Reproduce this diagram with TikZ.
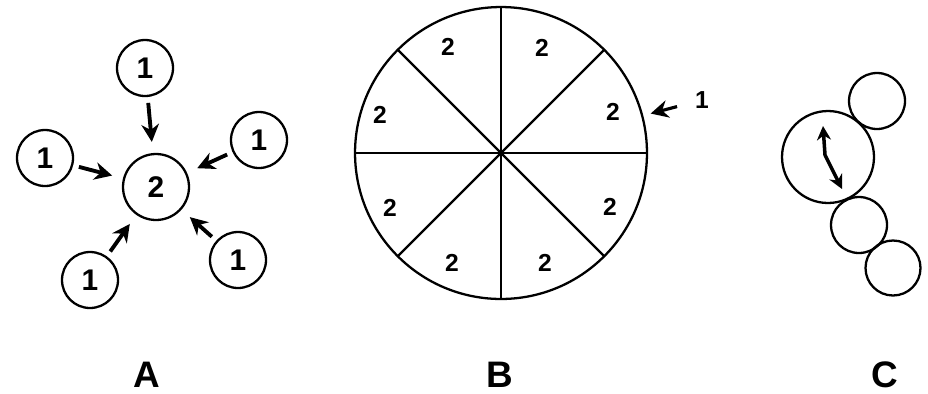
\documentclass[tikz,border=0pt]{standalone}
\usepackage{fontspec}
\setsansfont{Liberation Sans}
\usetikzlibrary{arrows.meta}

\begin{document}
\begin{tikzpicture}[x=0.02cm,y=-0.02cm,>={Stealth[length=10pt,width=10pt]},
  ring/.style={draw,circle,line width=1.3pt,inner sep=0pt,outer sep=0pt,font=\sffamily\bfseries\fontsize{17}{17}\selectfont},
  num/.style={font=\sffamily\bfseries\fontsize{14}{14}\selectfont},
  push/.style={->,line width=2.2pt,shorten <=4pt,shorten >=7pt},
  tag/.style={inner sep=0pt,font=\sffamily\bfseries\fontsize{21}{21}\selectfont}]
\useasboundingbox (0,0) rectangle (928,393);
% A
\node[ring,minimum size=1.32cm] (a2) at (156,187) {2};
\node[ring,minimum size=1.12cm] (an) at (145,68) {1};
\node[ring,minimum size=1.12cm] (aw) at (45,158) {1};
\node[ring,minimum size=1.12cm] (ae) at (259,140) {1};
\node[ring,minimum size=1.12cm] (asw) at (90,280) {1};
\node[ring,minimum size=1.12cm] (ase) at (238,260) {1};
\draw[push] (an)--(a2); \draw[push] (aw)--(a2); \draw[push] (ae)--(a2);
\draw[push] (asw)--(a2); \draw[push] (ase)--(a2);
% B
\node[ring,minimum size=5.84cm] (wheel) at (501,153) {};
\draw[line width=1.3pt] (wheel.0)--(wheel.180) (wheel.90)--(wheel.270);
\draw[line width=1.3pt] (wheel.45)--(wheel.225) (wheel.135)--(wheel.315);
\node[num] (b1) at (448,47) {2}; \node[num] (b2) at (542,48) {2};
\node[num] (b3) at (380,115) {2}; \node[num] (b4) at (613,112) {2};
\node[num] (b5) at (390,208) {2}; \node[num] (b6) at (610,207) {2};
\node[num] (b7) at (452,263) {2}; \node[num] (b8) at (545,263) {2};
\node[num] (bone) at (702,100) {1};
\draw[push,line width=1.8pt,shorten <=7pt,shorten >=5pt] (bone)--(wheel);
% C
\node[ring,minimum size=1.84cm] (cbig) at (828,157) {};
\node[ring,minimum size=1.12cm] (ctop) at (877,101) {};
\node[ring,minimum size=1.12cm] (cmid) at (859,225) {};
\node[ring,minimum size=1.1cm] (clow) at (893,268) {};
\coordinate (cp) at (823,126); \coordinate (ck) at (825,155); \coordinate (cq) at (842,189);
\draw[<->,line width=2pt,>={Stealth[length=8pt,width=8pt]}] (cp)--(ck)--(cq);
% labels
\node[tag] (la) at (147,375) {A};
\node[tag] (lb) at (500,375) {B};
\node[tag] (lc) at (885,375) {C};
\end{tikzpicture}
\end{document}
